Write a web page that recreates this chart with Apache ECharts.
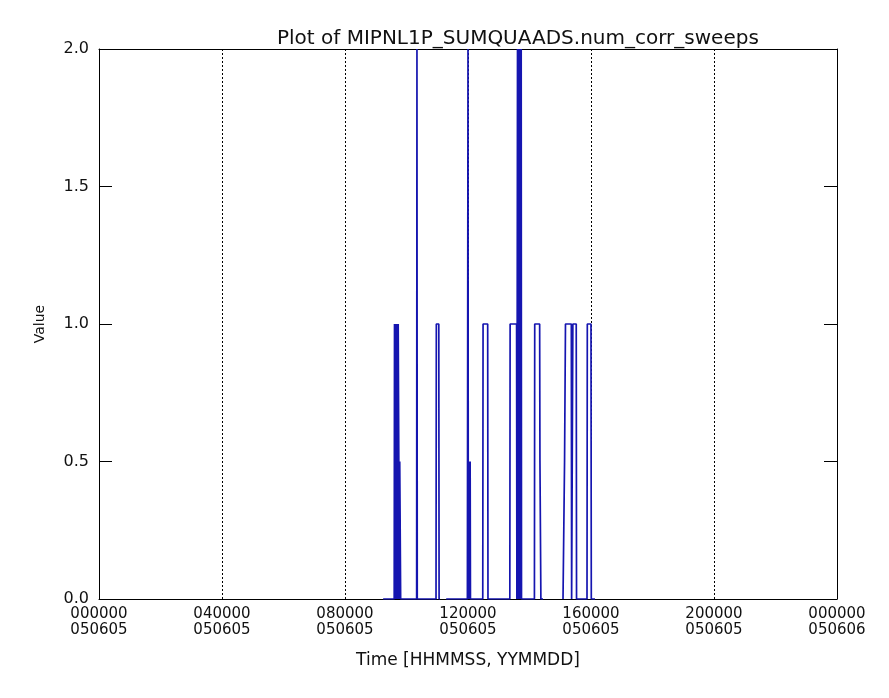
<!DOCTYPE html>
<html>
<head>
<meta charset="utf-8">
<script src="https://cdn.jsdelivr.net/npm/echarts@6/dist/echarts.min.js"></script>
<style>
html,body{margin:0;padding:0;background:#fff;}
#chart{width:889px;height:698px;}
</style>
</head>
<body>
<div id="chart"></div>
<script>
// Time in hours since 000000 050605; null breaks the line (data gap)
const times = [
  9.24, 9.60, 9.61, 9.64, 9.65, 9.68, 9.69, 9.72, 9.73, 9.74, 9.75, 9.77, 9.78, 9.80, 9.81,
  10.33, 10.34, 10.35,
  10.96, 10.97, 11.05, 11.06, 11.09,
  11.18,
  11.29, 11.98, 11.99, 12.00, 12.01, 12.03, 12.04, 12.07, 12.08,
  12.48, 12.49, 12.64, 12.65,
  13.36, 13.37, 13.58, 13.59, 13.61, 13.63, 13.65, 13.67, 13.69, 13.71, 13.73, 13.74,
  14.16, 14.17, 14.33, 14.34, 14.36, 14.37, 14.44,
  14.80,
  15.09, 15.13, 15.14, 15.16, 15.17, 15.36, 15.37,
  15.40, 15.41, 15.52, 15.53,
  15.87, 15.88, 16.00, 16.01, 16.13
];
const values = [
  0, 0, 1, 0, 1, 0, 1, 0, 1, 1, 0.5, 0, 0.5, 0.5, 0,
  0, 2, 0,
  0, 1, 1, 0, 0,
  null,
  0, 0, 1, 2, 0, 0.5, 0, 0.5, 0,
  0, 1, 1, 0,
  0, 1, 1, 0, 2, 0, 2, 0, 2, 0, 2, 0,
  0, 1, 1, 0.5, 0.5, 0, 0,
  null,
  0, 0, 0.5, 0.5, 1, 1, 0,
  0, 1, 1, 0,
  0, 1, 1, 0, 0
];
const xTickLabels = ['000000\n050605','040000\n050605','080000\n050605','120000\n050605','160000\n050605','200000\n050605','000000\n050606'];
const yTickLabels = ['0.0','0.5','1.0','1.5','2.0'];

const points = times.map((t, i) => [t, values[i]]);
const FONT = 'DejaVu Sans';
const chart = echarts.init(document.getElementById('chart'), null, {renderer: 'canvas'});
chart.setOption({
  animation: false,
  backgroundColor: '#ffffff',
  title: {
    text: 'Plot of MIPNL1P_SUMQUAADS.num_corr_sweeps',
    left: 272, top: 24,
    textStyle: {fontFamily: FONT, fontSize: 20, fontWeight: 'normal', color: '#111'}
  },
  grid: {left: 99, right: 52, top: 49, bottom: 99},
  xAxis: [{
    type: 'value', min: 0, max: 24, interval: 4, position: 'bottom',
    name: 'Time [HHMMSS, YYMMDD]', nameLocation: 'middle', nameGap: 53,
    nameTextStyle: {fontFamily: FONT, fontSize: 17, color: '#111'},
    axisLine: {show: true, onZero: false, lineStyle: {color: '#000', width: 1}},
    axisTick: {show: false},
    axisLabel: {fontFamily: FONT, fontSize: 15, color: '#111', margin: 7, lineHeight: 16,
      formatter: (v) => xTickLabels[Math.round(v / 4)]},
    splitLine: {show: true, lineStyle: {color: '#000', width: 1, type: [2, 2]}}
  }, {
    type: 'value', min: 0, max: 24, interval: 4, position: 'top',
    axisLine: {show: true, onZero: false, lineStyle: {color: '#000', width: 1}},
    axisTick: {show: false}, axisLabel: {show: false}, splitLine: {show: false}
  }],
  yAxis: [{
    type: 'value', min: 0, max: 2, interval: 0.5, position: 'left',
    name: 'Value', nameLocation: 'middle', nameGap: 52, nameRotate: 90,
    nameTextStyle: {fontFamily: FONT, fontSize: 14, color: '#111'},
    axisLine: {show: true, onZero: false, lineStyle: {color: '#000', width: 1}},
    axisTick: {show: true, inside: true, length: 13, lineStyle: {color: '#000'}},
    axisLabel: {fontFamily: FONT, fontSize: 16, color: '#111', margin: 10,
      formatter: (v) => yTickLabels[Math.round(v * 2)]},
    splitLine: {show: false}
  }, {
    type: 'value', min: 0, max: 2, interval: 0.5, position: 'right',
    axisLine: {show: true, onZero: false, lineStyle: {color: '#000', width: 1}},
    axisTick: {show: true, inside: true, length: 13, lineStyle: {color: '#000'}},
    axisLabel: {show: false}, splitLine: {show: false}
  }],
  series: [{
    type: 'line', xAxisIndex: 0, yAxisIndex: 0,
    data: points, showSymbol: false, symbol: 'none', connectNulls: false,
    lineStyle: {color: '#1515b0', width: 1.7},
    clip: true
  }]
});
</script>
</body>
</html>
